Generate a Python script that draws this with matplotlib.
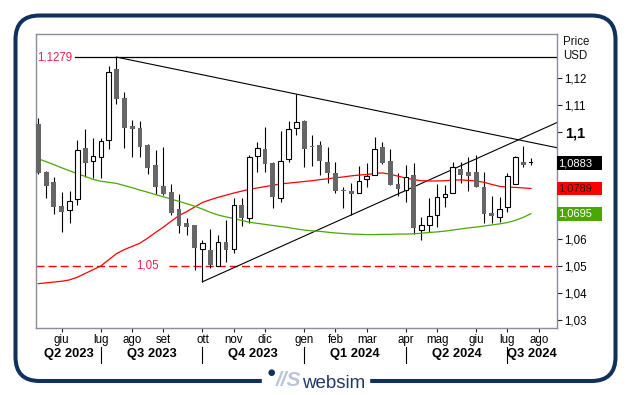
import numpy as np
import pandas as pd
import matplotlib
matplotlib.use('Agg')
import matplotlib.pyplot as plt
from matplotlib.patches import FancyBboxPatch, Rectangle, Circle

plt.rcParams['font.family'] = ['Liberation Sans', 'DejaVu Sans']

# EUR/USD weekly candles (week ending on friday)
first_week = '2023-05-12'
opens = [1.1030, 1.0852, 1.0814, 1.0724, 1.0709, 1.0749, 1.0939, 1.0893, 1.0908, 1.0970,
         1.1235, 1.1125, 1.1022, 1.1013, 1.0951, 1.0877, 1.0798, 1.0777, 1.0711, 1.0662,
         1.0653, 1.0562, 1.0560, 1.0501, 1.0589, 1.0562, 1.0727, 1.0678, 1.0910, 1.0935,
         1.0885, 1.0755, 1.0898, 1.1014, 1.1042, 1.0946, 1.0951, 1.0889, 1.0846, 1.0784,
         1.0780, 1.0771, 1.0824, 1.0839, 1.0943, 1.0892, 1.0806, 1.0783, 1.0839, 1.0634,
         1.0653, 1.0690, 1.0756, 1.0771, 1.0862, 1.0852, 1.0849, 1.0796, 1.0699, 1.0684,
         1.0721, 1.0806, 1.0886, 1.0885]
highs = [1.1051, 1.0855, 1.0833, 1.0775, 1.0781, 1.0970, 1.1010, 1.0976, 1.0976, 1.1247,
         1.1279, 1.1148, 1.1044, 1.1042, 1.0955, 1.0933, 1.0945, 1.0805, 1.0768, 1.0678,
         1.0653, 1.0597, 1.0638, 1.0616, 1.0671, 1.0752, 1.0752, 1.0914, 1.0962, 1.1017,
         1.0887, 1.1004, 1.1041, 1.1141, 1.1044, 1.0989, 1.0966, 1.0945, 1.0889, 1.0796,
         1.0808, 1.0873, 1.0883, 1.0982, 1.0961, 1.0935, 1.0846, 1.0877, 1.0883, 1.0684,
         1.0752, 1.0806, 1.0802, 1.0889, 1.0889, 1.0907, 1.0914, 1.0852, 1.0761, 1.0756,
         1.0848, 1.0910, 1.0948, 1.0902]
lows = [1.0843, 1.0755, 1.0694, 1.0628, 1.0661, 1.0727, 1.0833, 1.0827, 1.0827, 1.0936,
        1.1104, 1.0939, 1.0908, 1.0908, 1.0843, 1.0768, 1.0766, 1.0690, 1.0624, 1.0616,
        1.0485, 1.0441, 1.0491, 1.0498, 1.0516, 1.0547, 1.0650, 1.0661, 1.0852, 1.0852,
        1.0717, 1.0738, 1.0889, 1.0989, 1.0870, 1.0873, 1.0839, 1.0808, 1.0771, 1.0717,
        1.0690, 1.0771, 1.0793, 1.0839, 1.0880, 1.0802, 1.0761, 1.0740, 1.0619, 1.0597,
        1.0628, 1.0644, 1.0721, 1.0771, 1.0808, 1.0781, 1.0796, 1.0659, 1.0661, 1.0665,
        1.0702, 1.0806, 1.0868, 1.0877]
closes = [1.0846, 1.0798, 1.0721, 1.0702, 1.0743, 1.0933, 1.0885, 1.0910, 1.0967, 1.1225,
          1.1122, 1.1014, 1.1010, 1.0943, 1.0864, 1.0796, 1.0768, 1.0696, 1.0650, 1.0647,
          1.0566, 1.0587, 1.0504, 1.0590, 1.0560, 1.0727, 1.0678, 1.0905, 1.0939, 1.0879,
          1.0758, 1.0892, 1.1010, 1.1036, 1.0936, 1.0942, 1.0893, 1.0848, 1.0781, 1.0781,
          1.0768, 1.0817, 1.0836, 1.0935, 1.0885, 1.0802, 1.0788, 1.0833, 1.0641, 1.0653,
          1.0686, 1.0756, 1.0767, 1.0868, 1.0839, 1.0837, 1.0796, 1.0694, 1.0686, 1.0711,
          1.0836, 1.0905, 1.0876, 1.0883]

# moving averages (red: short, green: long)
ma_red = [1.0434, 1.0437, 1.0440, 1.0443, 1.0448, 1.0458, 1.0472, 1.0486, 1.0500, 1.0523,
          1.0546, 1.0561, 1.0573, 1.0585, 1.0604, 1.0625, 1.0645, 1.0667, 1.0688, 1.0703,
          1.0720, 1.0737, 1.0747, 1.0756, 1.0764, 1.0772, 1.0779, 1.0786, 1.0791, 1.0796,
          1.0801, 1.0806, 1.0809, 1.0812, 1.0815, 1.0818, 1.0822, 1.0825, 1.0829, 1.0832,
          1.0836, 1.0839, 1.0841, 1.0845, 1.0847, 1.0842, 1.0835, 1.0828, 1.0822, 1.0818,
          1.0817, 1.0817, 1.0818, 1.0820, 1.0821, 1.0819, 1.0817, 1.0812, 1.0804, 1.0797,
          1.0794, 1.0793, 1.0791, 1.0789]
ma_green = [1.0900, 1.0889, 1.0878, 1.0866, 1.0855, 1.0844, 1.0834, 1.0823, 1.0816, 1.0812,
            1.0808, 1.0800, 1.0792, 1.0783, 1.0775, 1.0766, 1.0758, 1.0749, 1.0741, 1.0732,
            1.0723, 1.0712, 1.0700, 1.0690, 1.0683, 1.0677, 1.0670, 1.0663, 1.0659, 1.0655,
            1.0651, 1.0647, 1.0643, 1.0638, 1.0634, 1.0631, 1.0629, 1.0626, 1.0623, 1.0621,
            1.0619, 1.0618, 1.0617, 1.0617, 1.0618, 1.0618, 1.0619, 1.0619, 1.0620, 1.0622,
            1.0625, 1.0627, 1.0630, 1.0634, 1.0638, 1.0642, 1.0645, 1.0649, 1.0653, 1.0657,
            1.0662, 1.0670, 1.0681, 1.0695]

resistance = 1.1279
support = 1.05
last_close = 1.0883
red_last = 1.0789
green_last = 1.0695

month_names = ['gen', 'feb', 'mar', 'apr', 'mag', 'giu', 'lug', 'ago', 'set', 'ott', 'nov', 'dic']
y_ticks = [1.03, 1.04, 1.05, 1.06, 1.10, 1.11, 1.12]
y_ticklabels = ['1,03', '1,04', '1,05', '1,06', '1,1', '1,11', '1,12']

NAVY = '#10305e'
LBLRED = '#f0204a'

o = np.array(opens); h = np.array(highs); l = np.array(lows); c = np.array(closes)
n = len(c)
x = np.arange(n)
weeks = pd.date_range(first_week, periods=n + 3, freq='W-FRI')

fig = plt.figure(figsize=(6.31, 3.95), dpi=100)
bg = fig.add_axes([0, 0, 1, 1])
bg.set_xlim(0, 631)
bg.set_ylim(395, 0)
bg.axis('off')

ax = fig.add_axes([36 / 631, (395 - 328) / 395, 521 / 631, 294 / 395])
ax.set_xlim(-0.29, 66.33)
ax.set_ylim(1.02686, 1.13652)
x_right = ax.get_xlim()[1]

# candles
ax.vlines(x, l, h, color='black', lw=0.8, zorder=2)
up = c >= o
hgt = np.maximum(np.abs(c - o), 0.0004)
ax.bar(x[~up], hgt[~up], bottom=np.minimum(o, c)[~up], width=0.62,
       color='#666666', lw=0, zorder=3)
ax.bar(x[up], hgt[up], bottom=o[up], width=0.58, facecolor='white',
       edgecolor='black', lw=0.8, zorder=3)
# current week in black
ax.bar(x[-1:], hgt[-1:], bottom=np.minimum(o, c)[-1:], width=0.62, color='black', zorder=4)

# moving averages
ax.plot(x, ma_red, color='#ff0000', lw=0.9, zorder=2.5)
ax.plot(x, ma_green, color='#4aa800', lw=0.9, zorder=2.5)

# trend lines
s1 = (highs[33] - highs[10]) / (33 - 10)
ax.plot([10, x_right], [highs[10], highs[10] + s1 * (x_right - 10)], color='black', lw=0.8, zorder=2)
s2 = (lows[40] - lows[21]) / (40 - 21)
ax.plot([21, x_right], [lows[21], lows[21] + s2 * (x_right - 21)], color='black', lw=0.8, zorder=2)

ax.axhline(resistance, xmin=0.075, color='black', lw=0.9, zorder=2)
ax.text(0.003, resistance, '1,1279', transform=ax.get_yaxis_transform(),
        color=LBLRED, fontsize=8.3, va='center', ha='left')
ax.axhline(support, color='#ff0000', lw=1.0, dashes=(5.8, 2.9), zorder=1.5)
ax.text(0.214, support, '1,05', transform=ax.get_yaxis_transform(), color=LBLRED,
        fontsize=8.3, va='center', ha='center',
        bbox=dict(boxstyle='square,pad=0.8', fc='white', ec='none'))

# value boxes on the price scale
trans_y = ax.get_yaxis_transform()
for val, fc, tc in [(last_close, 'black', 'white'), (red_last, '#ff0000', '#3a0000'),
                    (green_last, '#48a800', 'white')]:
    ax.add_patch(Rectangle((1.0, val - 0.0026), 45 / 521, 0.0052, transform=trans_y,
                           facecolor=fc, edgecolor='none', clip_on=False, zorder=5))
    ax.text(1.0 + 1.5 / 521, val, f'{val:.4f}'.replace('.', ','), transform=trans_y,
            color=tc, fontsize=8, va='center', ha='left', zorder=6, clip_on=False)

# y axis on the right
ax.yaxis.tick_right()
ax.set_yticks(y_ticks, y_ticklabels)
ax.tick_params(axis='y', length=3.5, width=0.8, color='#222222', labelsize=8.3, pad=2)
for lbl in ax.get_yticklabels():
    if lbl.get_text() == '1,1':
        lbl.set_fontweight('bold')
        lbl.set_fontsize(10.5)

# months and quarters
tick_idx, tick_lbl = [], []
for i in range(1, len(weeks)):
    if weeks[i].month != weeks[i - 1].month and i <= x_right:
        tick_idx.append(i)
        tick_lbl.append(month_names[weeks[i].month - 1])
ax.set_xticks(tick_idx, tick_lbl)
ax.tick_params(axis='x', length=3, width=0.8, color='#222222', labelsize=8.3, pad=1.5)

trans_x = ax.get_xaxis_transform()
q_idx = [i for i in tick_idx if weeks[i].month in (1, 4, 7, 10)]
bounds = [ax.get_xlim()[0]] + q_idx + [x_right]
for k in range(len(bounds) - 1):
    d = weeks[max(int(np.ceil(bounds[k])), 0)]
    q = (d.month - 1) // 3 + 1
    ax.text((bounds[k] + bounds[k + 1]) / 2, -0.088, f'Q{q} {d.year}', transform=trans_x,
            fontsize=9.3, fontweight='bold', ha='center', va='center')
for qi in q_idx:
    ax.plot([qi, qi], [-0.065, -0.119], transform=trans_x, color='black', lw=0.8, clip_on=False)

for sp in ax.spines.values():
    sp.set_color('#8c8c9c')
    sp.set_linewidth(1.0)

bg.text(563, 42, 'Price', fontsize=8.3, va='center', ha='left', color='#111111')
bg.text(563, 56, 'USD', fontsize=8.3, va='center', ha='left', color='#111111')

# frame and logo
bg.add_patch(FancyBboxPatch((15.5, 15.5), 600, 365.5, boxstyle='round,pad=0,rounding_size=24',
                            fill=False, ec=NAVY, lw=2.9))
bg.add_patch(Rectangle((262, 374), 107, 14, color='white', zorder=3))
bg.add_patch(Circle((271.7, 372.7), 2.6, color=NAVY, zorder=4))
bg.text(288.5, 380.5, '//S', style='italic', fontweight='bold', color='#b9c6d8',
        fontsize=15, ha='center', va='center', zorder=4)
bg.text(302, 388, 'websim', fontsize=13.5, color='#1e3a66', ha='left', va='baseline', zorder=4)

fig.savefig('out.png', dpi=100)
